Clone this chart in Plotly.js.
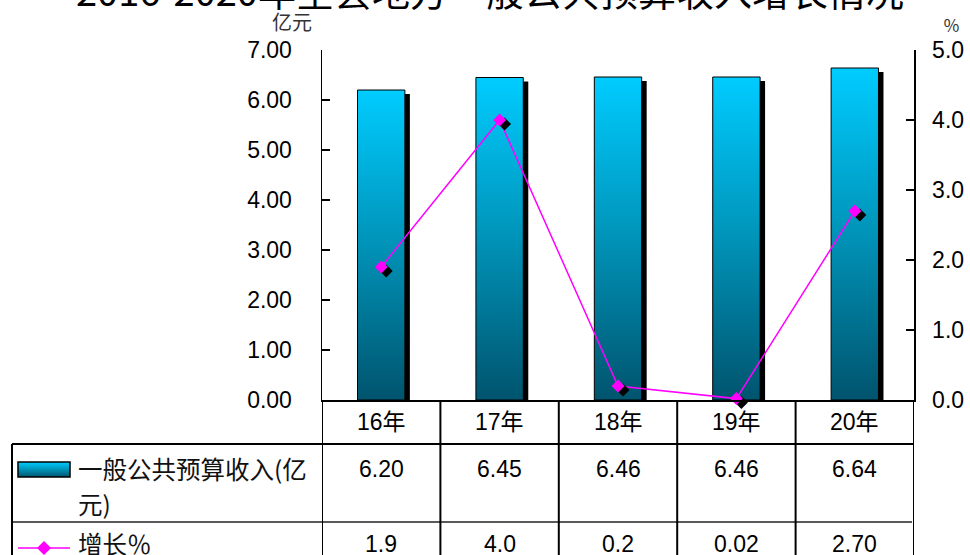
<!DOCTYPE html>
<html>
<head>
<meta charset="utf-8">
<script src="https://cdn.plot.ly/plotly-3.0.1.min.js"></script>
<style>html,body{margin:0;padding:0;background:#fff;}#chart{width:970px;height:555px;}</style>
</head>
<body>
<div id="chart"></div>
<script>
// ---- data ----
const chartTitle = '2016-2020年全县地方一般公共预算收入增长情况';
const categories = ['16年', '17年', '18年', '19年', '20年'];
const revenueName = '一般公共预算收入(亿元)';
const revenue = [6.20, 6.45, 6.46, 6.46, 6.64];
const revenueText = ['6.20', '6.45', '6.46', '6.46', '6.64'];
const growthName = '增长％';
const growth = [1.9, 4.0, 0.2, 0.02, 2.70];
const growthText = ['1.9', '4.0', '0.2', '0.02', '2.70'];
const leftUnit = '亿元';
const rightUnit = '％';

// ---- geometry helpers (layout only) ----
const L = 322, R = 914, T = 50, B = 400;
const px = x => (x - L) / (R - L);
const py = y => (B - y) / (B - T);

const numFont = {family: 'Liberation Sans, Arial, Noto Sans CJK SC', size: 23, color: '#000'};
const cjkFont = {family: 'Noto Sans CJK SC, Liberation Sans', size: 24.5, color: '#111'};

const xIdx = categories.map((c, i) => i);

const traces = [
  {type: 'bar', x: xIdx, y: revenue, width: 0.4, name: revenueName,
   marker: {color: '#00aadd', line: {color: '#000', width: 1}}, yaxis: 'y', showlegend: false, hoverinfo: 'none'},
  {type: 'scatter', mode: 'lines+markers', x: xIdx, y: growth, name: growthName, yaxis: 'y2',
   line: {color: '#ff00ff', width: 1.5},
   marker: {symbol: 'diamond', size: 10, color: '#ff00ff', line: {width: 0}}, showlegend: false, hoverinfo: 'none', cliponaxis: false}
];

const A = (o) => Object.assign({showarrow: false, xanchor: 'center', yanchor: 'middle'}, o);
const ann = [];
// title
ann.push(A({text: chartTitle, xref: 'paper', yref: 'paper', x: px(490), y: py(-10),
          font: {family: 'Noto Sans CJK SC', size: 38, color: '#000'}}));
ann.push(A({text: leftUnit, xref: 'paper', yref: 'paper', x: px(292), y: py(22), font: {family: 'Noto Sans CJK SC', size: 20, color: '#333'}}));
ann.push(A({text: rightUnit, xref: 'paper', yref: 'paper', x: px(951), y: py(24), font: {family: 'Noto Sans CJK SC', size: 17, color: '#333'}}));
categories.forEach((c, i) => {
  ann.push(A({text: c, xref: 'x', yref: 'paper', x: i, y: py(422), font: numFont}));
  ann.push(A({text: revenueText[i], xref: 'x', yref: 'paper', x: i, y: py(469), font: numFont}));
  ann.push(A({text: growthText[i], xref: 'x', yref: 'paper', x: i, y: py(544), font: numFont}));
});
ann.push(A({text: revenueName.slice(0, 10), xref: 'paper', yref: 'paper', x: px(76), y: py(468), xanchor: 'left', font: cjkFont}));
ann.push(A({text: revenueName.slice(10), xref: 'paper', yref: 'paper', x: px(76), y: py(503), xanchor: 'left', font: cjkFont}));
ann.push(A({text: growthName, xref: 'paper', yref: 'paper', x: px(76), y: py(543), xanchor: 'left', font: cjkFont}));

const shapes = [];
const ln = {color: '#000', width: 2};
shapes.push({type: 'line', xref: 'paper', yref: 'paper', x0: px(12), x1: px(914), y0: py(444), y1: py(444), line: ln});
shapes.push({type: 'line', xref: 'paper', yref: 'paper', x0: px(12), x1: px(912), y0: py(522), y1: py(522), line: {color: '#222', width: 1.5}});
shapes.push({type: 'line', xref: 'paper', yref: 'paper', x0: px(12), x1: px(12), y0: py(444), y1: py(570), line: ln});
for (let i = 0; i <= categories.length; i++) {
  shapes.push({type: 'line', xref: 'x', yref: 'paper', x0: i - 0.5, x1: i - 0.5, y0: 0, y1: py(570), line: ln});
}
// legend icons
const iconIndex = shapes.length;
shapes.push({type: 'rect', xref: 'paper', yref: 'paper', x0: px(18), x1: px(70), y0: py(477), y1: py(462), fillcolor: '#00aadd', line: {color: '#000', width: 1.5}});
shapes.push({type: 'line', xref: 'paper', yref: 'paper', x0: px(18), x1: px(70), y0: py(548), y1: py(548), line: {color: '#ff00ff', width: 1.5}});
shapes.push({type: 'path', xref: 'paper', yref: 'paper', xsizemode: 'pixel', ysizemode: 'pixel', xanchor: px(44), yanchor: py(548),
             path: 'M -7 0 L 0 -7 L 7 0 L 0 7 Z', fillcolor: '#ff00ff', line: {width: 0}});

const layout = {
  width: 970, height: 555,
  margin: {l: L, r: 970 - R, t: T, b: 555 - B},
  paper_bgcolor: '#fff', plot_bgcolor: '#fff',
  showlegend: false,
  xaxis: {range: [-0.5, categories.length - 0.5], showticklabels: false, ticks: '', showgrid: false, zeroline: false,
          showline: true, linecolor: '#000', linewidth: 2, fixedrange: true},
  yaxis: {range: [0, 7], dtick: 1, tickformat: '.2f', showgrid: false, zeroline: false, showline: true, linecolor: '#000', linewidth: 1.5,
          ticks: 'inside', ticklen: 8, tickwidth: 1.5, tickcolor: '#000', tickfont: numFont, ticklabelstandoff: 24},
  yaxis2: {range: [0, 5], dtick: 1, tickformat: '.1f', overlaying: 'y', side: 'right', showgrid: false, zeroline: false,
           showline: true, linecolor: '#000', linewidth: 1.5, ticks: 'inside', ticklen: 8, tickwidth: 1.5, tickcolor: '#000',
           tickfont: numFont, ticklabelstandoff: 12},
  annotations: ann,
  shapes: shapes
};

Plotly.newPlot('chart', traces, layout, {displayModeBar: false, staticPlot: true}).then(gd => {
  const NS = 'http://www.w3.org/2000/svg';
  const svg = gd.querySelector('.main-svg');
  let defs = svg.querySelector('defs');
  if (!defs) { defs = document.createElementNS(NS, 'defs'); svg.insertBefore(defs, svg.firstChild); }
  const grad = document.createElementNS(NS, 'linearGradient');
  grad.setAttribute('id', 'barGrad');
  grad.setAttribute('x1', '0'); grad.setAttribute('y1', '0'); grad.setAttribute('x2', '0'); grad.setAttribute('y2', '1');
  [['0', '#00ccff'], ['0.5', '#0093b8'], ['1', '#00546e']].forEach(([o, c]) => {
    const s = document.createElementNS(NS, 'stop');
    s.setAttribute('offset', o); s.setAttribute('stop-color', c);
    grad.appendChild(s);
  });
  defs.appendChild(grad);
  // bars: gradient + shadow
  gd.querySelectorAll('.barlayer .point path').forEach(p => {
    const sh = p.cloneNode(true);
    sh.style.fill = '#000'; sh.style.stroke = 'none';
    sh.setAttribute('transform', 'translate(5,4)');
    p.parentNode.insertBefore(sh, p);
    p.style.fill = 'url(#barGrad)';
  });
  // markers: shadow
  gd.querySelectorAll('.scatterlayer .points path.point').forEach(p => {
    const sh = p.cloneNode(true);
    sh.style.fill = '#000';
    sh.setAttribute('transform', (p.getAttribute('transform') || '') + ' translate(5,4)');
    p.parentNode.insertBefore(sh, p);
  });
  const icon = gd.querySelector('.shapelayer path[data-index="' + iconIndex + '"]');
  if (icon) icon.style.fill = 'url(#barGrad)';
});
</script>
</body>
</html>
